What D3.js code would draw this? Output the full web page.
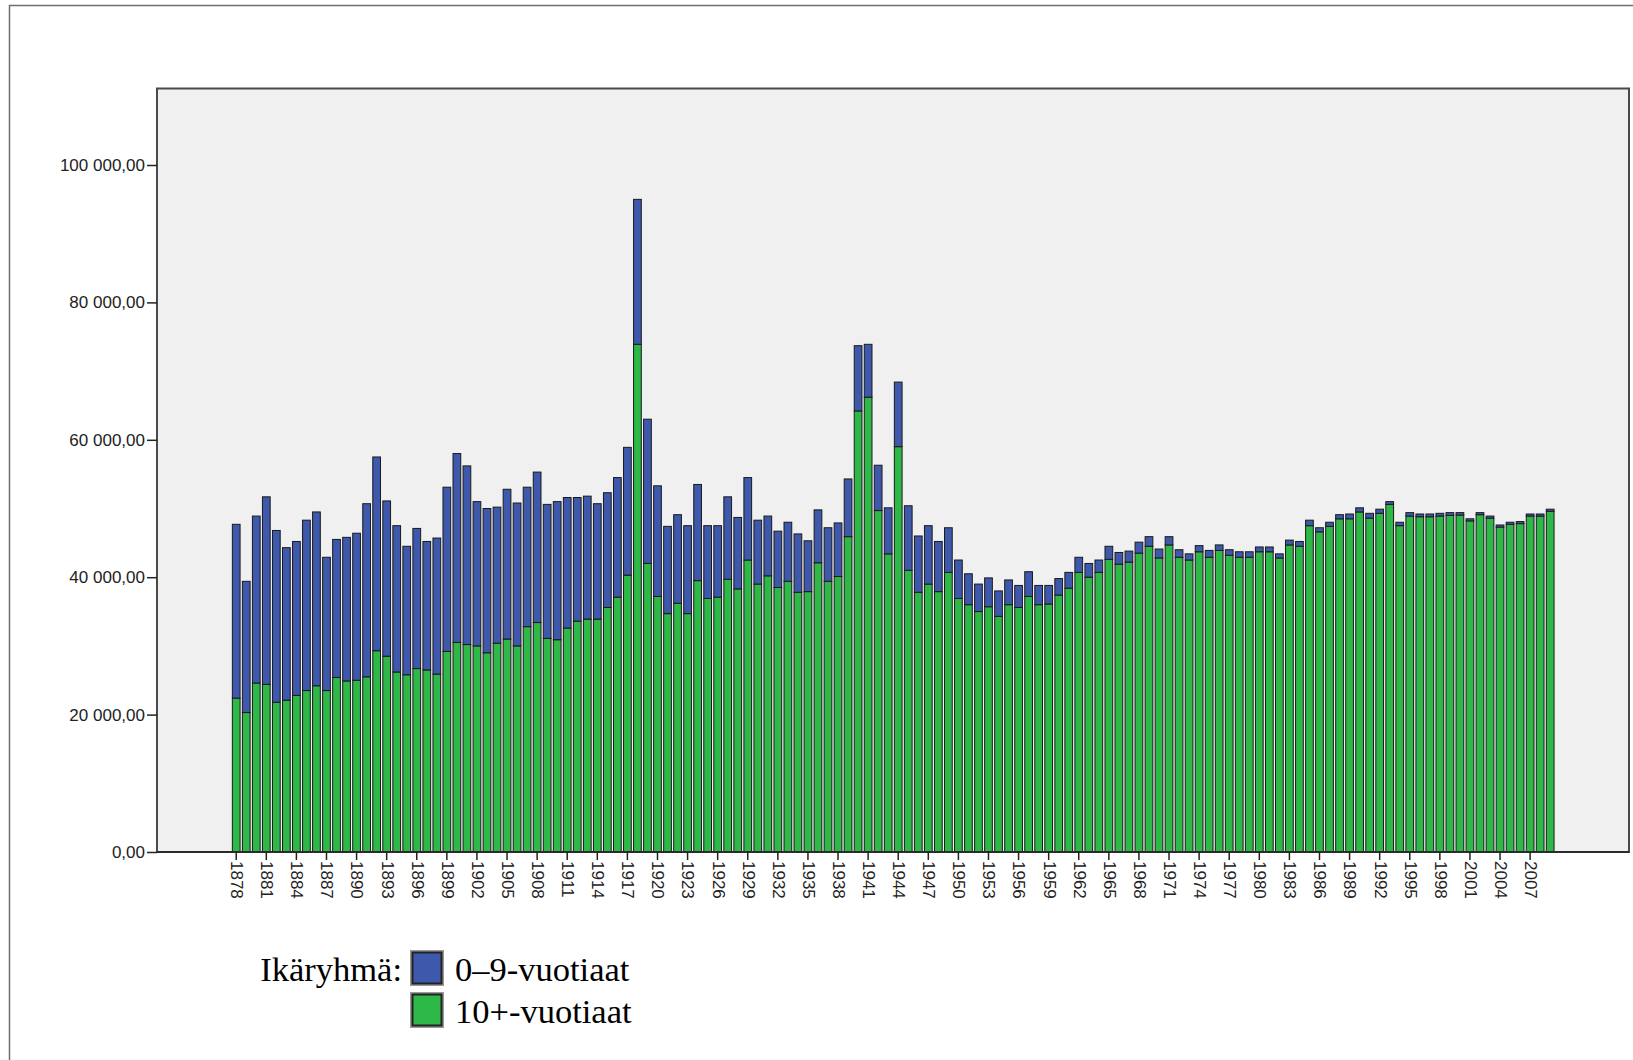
<!DOCTYPE html>
<html>
<head>
<meta charset="utf-8">
<script src="https://cdn.jsdelivr.net/npm/d3@7"></script>
<style>
  body { margin: 0; background: #fff; }
  svg { display: block; }
</style>
</head>
<body>
<script>
// vuodet (kategoriat)
var years = [
  1878, 1879, 1880, 1881, 1882, 1883, 1884, 1885, 1886, 1887,
  1888, 1889, 1890, 1891, 1892, 1893, 1894, 1895, 1896, 1897,
  1898, 1899, 1900, 1901, 1902, 1903, 1904, 1905, 1906, 1907,
  1908, 1909, 1910, 1911, 1912, 1913, 1914, 1915, 1916, 1917,
  1918, 1919, 1920, 1921, 1922, 1923, 1924, 1925, 1926, 1927,
  1928, 1929, 1930, 1931, 1932, 1933, 1934, 1935, 1936, 1937,
  1938, 1939, 1940, 1941, 1942, 1943, 1944, 1945, 1946, 1947,
  1948, 1949, 1950, 1951, 1952, 1953, 1954, 1955, 1956, 1957,
  1958, 1959, 1960, 1961, 1962, 1963, 1964, 1965, 1966, 1967,
  1968, 1969, 1970, 1971, 1972, 1973, 1974, 1975, 1976, 1977,
  1978, 1979, 1980, 1981, 1982, 1983, 1984, 1985, 1986, 1987,
  1988, 1989, 1990, 1991, 1992, 1993, 1994, 1995, 1996, 1997,
  1998, 1999, 2000, 2001, 2002, 2003, 2004, 2005, 2006, 2007,
  2008, 2009
];

// 10+-vuotiaat
var older = [
  22400, 20300, 24600, 24400, 21800, 22100, 22800, 23500, 24200, 23500,
  25400, 24900, 25000, 25500, 29300, 28500, 26200, 25800, 26700, 26500,
  25900, 29200, 30500, 30200, 30000, 29000, 30400, 31000, 30000, 32800,
  33400, 31100, 30900, 32600, 33600, 33900, 33900, 35600, 37100, 40300,
  73900, 42000, 37200, 34700, 36200, 34700, 39500, 36900, 37100, 39700,
  38300, 42500, 39000, 40200, 38500, 39400, 37800, 37900, 42100, 39400,
  40100, 45900, 64200, 66200, 49700, 43400, 59000, 41000, 37800, 39000,
  37900, 40700, 36900, 36000, 35000, 35700, 34300, 36000, 35600, 37200,
  36000, 36100, 37400, 38400, 40700, 40000, 40700, 42600, 41900, 42200,
  43500, 44500, 42800, 44700, 42900, 42500, 43700, 42900, 43900, 43200,
  42900, 42900, 43700, 43700, 42800, 44700, 44500, 47500, 46600, 47400,
  48500, 48500, 49500, 48600, 49300, 50600, 47500, 48900, 48800, 48800,
  48900, 49000, 49050, 48200, 49100, 48600, 47300, 47700, 47800, 48900,
  48900, 49600
];

// 0-9-vuotiaat
var young = [
  25300, 19100, 24300, 27300, 25000, 22200, 22400, 24800, 25300, 19400,
  20100, 20900, 21400, 25200, 28200, 22600, 21300, 18700, 20400, 18700,
  19800, 23900, 27500, 26000, 21000, 21000, 19800, 21800, 20800, 20300,
  21900, 19500, 20100, 19000, 18000, 17900, 16800, 16700, 17400, 18600,
  21100, 21000, 16100, 12700, 12900, 12800, 14000, 10600, 10400, 12000,
  10400, 12000, 9300, 8700, 8200, 8600, 8500, 7400, 7700, 7800,
  7800, 8400, 9500, 7700, 6600, 6700, 9400, 9400, 8200, 8500,
  7300, 6500, 5600, 4500, 4000, 4200, 3700, 3600, 3200, 3600,
  2800, 2700, 2400, 2300, 2200, 2000, 1800, 1900, 1700, 1600,
  1600, 1400, 1300, 1200, 1100, 900, 900, 1000, 800, 800,
  800, 800, 700, 700, 600, 700, 700, 800, 600, 600,
  600, 700, 600, 700, 600, 400, 500, 500, 400, 400,
  400, 400, 350, 300, 300, 300, 300, 300, 300, 300,
  300, 300
];

var yTicks = [0, 20000, 40000, 60000, 80000, 100000];
var xTickYears = [
  1878, 1881, 1884, 1887, 1890, 1893, 1896, 1899, 1902, 1905, 1908,
  1911, 1914, 1917, 1920, 1923, 1926, 1929, 1932, 1935, 1938, 1941,
  1944, 1947, 1950, 1953, 1956, 1959, 1962, 1965, 1968, 1971, 1974,
  1977, 1980, 1983, 1986, 1989, 1992, 1995, 1998, 2001, 2004, 2007
];
var seriesKeys = ["older", "young"];
var seriesLabels = { young: "0\u20139-vuotiaat", older: "10+-vuotiaat" };
var colors = { young: "#3e58ac", older: "#2eb848" };

var width = 1633,
    height = 1060,
    plot = { left: 157, top: 88.5, right: 1629, bottom: 852 };

var table = years.map(function(y, i) {
  return { year: y, older: older[i], young: young[i] };
});

var fi = d3.formatLocale({ decimal: ",", thousands: "\u00a0", grouping: [3], currency: ["", ""] });
var fmt = fi.format(",.2f");

var svg = d3.select("body").append("svg")
    .attr("width", width)
    .attr("height", height);

// ulkokehys
svg.append("path")
    .attr("d", "M9.5," + height + "V5.5H" + width)
    .attr("fill", "none")
    .attr("stroke", "#6e6e6e")
    .attr("stroke-width", 1.5);

svg.append("rect")
    .attr("x", plot.left)
    .attr("y", plot.top)
    .attr("width", plot.right - plot.left)
    .attr("height", plot.bottom - plot.top)
    .attr("fill", "#f0f0f0");

var x = d3.scaleBand()
    .domain(years)
    .range([231.2, 1555.2])
    .paddingInner(0.23)
    .paddingOuter(0.115);

var y = d3.scaleLinear()
    .domain([0, 100000])
    .range([plot.bottom, 165]);

var stacked = d3.stack().keys(seriesKeys)(table);

svg.append("g")
  .selectAll("g")
  .data(stacked)
  .enter().append("g")
    .attr("fill", function(d) { return colors[d.key]; })
  .selectAll("rect")
  .data(function(d) { return d; })
  .enter().append("rect")
    .attr("x", function(d) { return x(d.data.year); })
    .attr("y", function(d) { return y(d[1]); })
    .attr("width", x.bandwidth())
    .attr("height", function(d) { return y(d[0]) - y(d[1]); })
    .attr("stroke", "#1a1a1a")
    .attr("stroke-width", 1);

// kehys
svg.append("rect")
    .attr("x", plot.left)
    .attr("y", plot.top)
    .attr("width", plot.right - plot.left)
    .attr("height", plot.bottom - plot.top)
    .attr("fill", "none")
    .attr("stroke", "#4a4a4a")
    .attr("stroke-width", 2);

svg.append("line")
    .attr("x1", plot.left).attr("x2", plot.right)
    .attr("y1", plot.bottom).attr("y2", plot.bottom)
    .attr("stroke", "#222")
    .attr("stroke-width", 1.5);

var yAxis = svg.append("g")
    .attr("transform", "translate(" + plot.left + ",0)")
    .call(d3.axisLeft(y).tickValues(yTicks).tickFormat(fmt).tickSize(10).tickPadding(2));
yAxis.select(".domain").remove();
yAxis.selectAll("line").attr("stroke", "#222").attr("stroke-width", 1.5);
yAxis.selectAll("text")
    .attr("fill", "#222")
    .style("font-family", "'Liberation Sans', Arial, sans-serif")
    .style("font-size", "17px");

var xAxis = svg.append("g")
    .attr("transform", "translate(0," + plot.bottom + ")")
    .call(d3.axisBottom(x).tickValues(xTickYears).tickSize(8).tickPadding(0));
xAxis.select(".domain").remove();
xAxis.selectAll("line").attr("stroke", "#222").attr("stroke-width", 1.5);
xAxis.selectAll("text")
    .attr("fill", "#222")
    .attr("transform", "rotate(90)")
    .attr("x", 9)
    .attr("y", 0)
    .attr("dy", "0.3em")
    .attr("text-anchor", "start")
    .style("font-family", "'Liberation Sans', Arial, sans-serif")
    .style("font-size", "17px");

// selite
var legend = svg.append("g")
    .style("font-family", "'Liberation Serif', 'Times New Roman', serif")
    .style("font-size", "34.5px")
    .attr("fill", "#000");

legend.append("text")
    .attr("x", 402)
    .attr("y", 981)
    .attr("text-anchor", "end")
    .text("Ik\u00e4ryhm\u00e4:");

var legendItems = legend.selectAll("g.item")
    .data(["young", "older"])
    .enter().append("g")
    .attr("class", "item")
    .attr("transform", function(d, i) { return "translate(0," + (i * 42) + ")"; });

legendItems.append("rect")
    .attr("x", 411.5)
    .attr("y", 951.5)
    .attr("width", 31)
    .attr("height", 33)
    .attr("fill", "none")
    .attr("stroke", "#999")
    .attr("stroke-width", 3);

legendItems.append("rect")
    .attr("x", 412.5)
    .attr("y", 952.5)
    .attr("width", 29)
    .attr("height", 31)
    .attr("fill", function(d) { return colors[d]; })
    .attr("stroke", "#222")
    .attr("stroke-width", 2);

legendItems.append("text")
    .attr("x", 455)
    .attr("y", 981)
    .text(function(d) { return seriesLabels[d]; });
</script>
</body>
</html>
